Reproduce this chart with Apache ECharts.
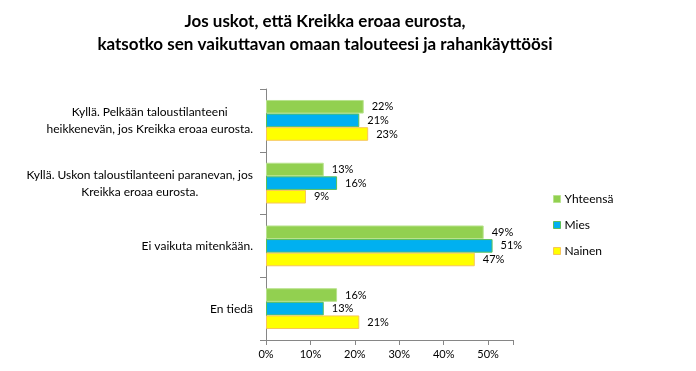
<!DOCTYPE html>
<html><head><meta charset="utf-8">
<script src="https://cdn.jsdelivr.net/npm/echarts@6/dist/echarts.min.js"></script>
<style>html,body{margin:0;padding:0;background:#fff}#c{width:696px;height:371px}</style>
</head><body><div id="c"></div>
<script>
const titleLines = ['Jos uskot, että Kreikka eroaa eurosta,', 'katsotko sen vaikuttavan omaan talouteesi ja rahankäyttöösi'];
const categories = [
  ['Kyllä. Pelkään taloustilanteeni', 'heikkenevän, jos Kreikka eroaa eurosta.'],
  ['Kyllä. Uskon taloustilanteeni paranevan, jos', 'Kreikka eroaa eurosta.'],
  ['Ei vaikuta mitenkään.'],
  ['En tiedä']
];
const seriesNames = ['Yhteensä', 'Mies', 'Nainen'];
const yhteensa = [22, 13, 49, 16];
const mies = [21, 16, 51, 13];
const nainen = [23, 9, 47, 21];
const xTicks = [0, 10, 20, 30, 40, 50];

const colors = ['#92d050', '#00b0f0', '#ffff00'];
const borders = ['#b9e38e', '#5cc05a', '#f7c55a'];
const FONT = 'Lato, "Open Sans", sans-serif';
const values = [yhteensa, mies, nainen];
const catKeys = categories.map((c, i) => 'c' + i);

const chart = echarts.init(document.getElementById('c'));
chart.setOption({
  animation: false,
  textStyle: { fontFamily: FONT },
  title: {
    text: titleLines.join('\n'),
    left: 320, top: 5, textAlign: 'center',
    textStyle: { fontSize: 17, fontWeight: 'bold', color: '#000', lineHeight: 23, fontFamily: FONT }
  },
  legend: {
    orient: 'vertical', left: 548, top: 188,
    itemWidth: 7, itemHeight: 7, itemGap: 14,
    icon: 'rect',
    textStyle: { fontSize: 12, color: '#000', fontFamily: FONT, padding: [0, 0, 0, -1] },
    data: seriesNames.map((n, i) => ({ name: n, itemStyle: { borderColor: borders[i], borderWidth: 1 } }))
  },
  grid: { left: 266, top: 89, width: 247, height: 251, containLabel: false },
  xAxis: {
    type: 'value', min: 0, max: 55.6, interval: 10,
    axisLine: { show: true, lineStyle: { color: '#868686' } },
    axisTick: { show: true, length: 5, lineStyle: { color: '#868686' } },
    splitLine: { show: false },
    axisLabel: {
      fontSize: 11, color: '#000', margin: 9, fontFamily: FONT,
      formatter: v => xTicks.includes(Math.round(v)) && Math.abs(v - Math.round(v)) < 1e-6 ? Math.round(v) + '%' : ''
    }
  },
  yAxis: {
    type: 'category', inverse: true, data: catKeys,
    axisLine: { show: true, lineStyle: { color: '#868686' } },
    axisTick: { show: true, length: 6, lineStyle: { color: '#868686' } },
    axisLabel: {
      margin: 13, color: '#000', fontSize: 12, fontFamily: FONT, lineHeight: 17,
      formatter: (v, idx) => categories[idx].map(l => '{c|' + l + '}').join('\n'),
      rich: { c: { align: 'center', fontSize: 12, lineHeight: 17, fontFamily: FONT, color: '#000' } }
    }
  },
  series: seriesNames.map((n, i) => ({
    name: n, type: 'bar', data: values[i],
    barGap: '0%', barCategoryGap: '35%',
    itemStyle: { color: colors[i], borderColor: borders[i], borderWidth: 1 },
    label: { show: true, position: 'right', distance: 8, formatter: p => p.value + '%', fontSize: 11, color: '#000', fontFamily: FONT }
  }))
});
</script></body></html>
